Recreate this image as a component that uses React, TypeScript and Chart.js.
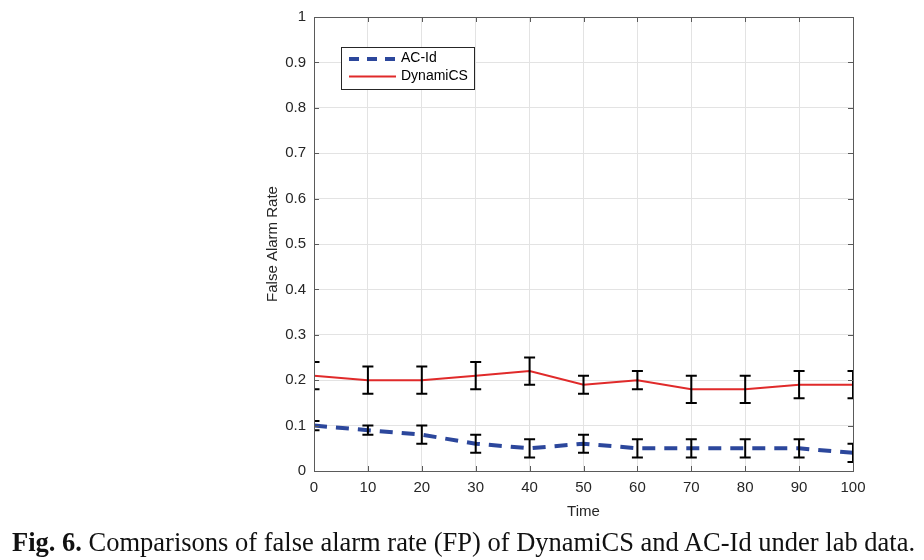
import React, { useEffect, useRef } from "react";
import { Chart, registerables } from "chart.js";

Chart.register(...registerables);

const times = [0, 10, 20, 30, 40, 50, 60, 70, 80, 90, 100];
const dynamicsMean = [0.21, 0.2, 0.2, 0.21, 0.22, 0.19, 0.2, 0.18, 0.18, 0.19, 0.19];
const dynamicsErr = [0.03, 0.03, 0.03, 0.03, 0.03, 0.02, 0.02, 0.03, 0.03, 0.03, 0.03];
const acidMean = [0.1, 0.09, 0.08, 0.06, 0.05, 0.06, 0.05, 0.05, 0.05, 0.05, 0.04];
const acidErr = [0.01, 0.01, 0.02, 0.02, 0.02, 0.02, 0.02, 0.02, 0.02, 0.02, 0.02];
const seriesNames = ["AC-Id", "DynamiCS"];
const xTitle = "Time";
const yTitle = "False Alarm Rate";
const caption = "Comparisons of false alarm rate (FP) of DynamiCS and AC-Id under lab data.";
const captionLabel = "Fig. 6.";

const BLUE = "#2c479c";
const RED = "#e02a2a";
const FONT = "'Liberation Sans', Arial, sans-serif";

const errorBarPlugin = {
  id: "errorBars",
  afterDatasetsDraw(chart: any) {
    const { ctx, chartArea, scales } = chart;
    const xs = scales.x;
    const ys = scales.y;
    ctx.save();
    ctx.beginPath();
    ctx.rect(chartArea.left, chartArea.top - 1, chartArea.right - chartArea.left, chartArea.bottom - chartArea.top + 2);
    ctx.clip();
    ctx.strokeStyle = "#000";
    ctx.lineWidth = 2;
    const draw = (means: number[], errs: number[]) => {
      times.forEach((t, i) => {
        const px = xs.getPixelForValue(t);
        const top = ys.getPixelForValue(means[i] + errs[i]);
        const bot = ys.getPixelForValue(means[i] - errs[i]);
        ctx.beginPath();
        ctx.moveTo(px, top);
        ctx.lineTo(px, bot);
        ctx.moveTo(px - 5.5, top);
        ctx.lineTo(px + 5.5, top);
        ctx.moveTo(px - 5.5, bot);
        ctx.lineTo(px + 5.5, bot);
        ctx.stroke();
      });
    };
    draw(dynamicsMean, dynamicsErr);
    draw(acidMean, acidErr);
    ctx.restore();

    // axes box and inward ticks
    ctx.save();
    ctx.strokeStyle = "#5a5a5a";
    ctx.lineWidth = 1;
    const { left, right, top, bottom } = chartArea;
    ctx.strokeRect(Math.round(left) + 0.5, Math.round(top) + 0.5, Math.round(right - left), Math.round(bottom - top));
    ctx.beginPath();
    xs.ticks.forEach((tk: any) => {
      const px = Math.round(xs.getPixelForValue(tk.value)) + 0.5;
      ctx.moveTo(px, bottom);
      ctx.lineTo(px, bottom - 5);
      ctx.moveTo(px, top);
      ctx.lineTo(px, top + 5);
    });
    ys.ticks.forEach((tk: any) => {
      const py = Math.round(ys.getPixelForValue(tk.value)) + 0.5;
      ctx.moveTo(left, py);
      ctx.lineTo(left + 5, py);
      ctx.moveTo(right, py);
      ctx.lineTo(right - 5, py);
    });
    ctx.stroke();
    ctx.restore();

    // legend
    ctx.save();
    const lx = 341, ly = 47, lw = 133, lh = 42;
    ctx.fillStyle = "#fff";
    ctx.fillRect(lx, ly, lw, lh);
    ctx.strokeStyle = "#262626";
    ctx.lineWidth = 1;
    ctx.strokeRect(lx + 0.5, ly + 0.5, lw, lh);
    ctx.lineWidth = 4;
    ctx.strokeStyle = BLUE;
    ctx.setLineDash([10, 8]);
    ctx.beginPath();
    ctx.moveTo(349, 59);
    ctx.lineTo(396, 59);
    ctx.stroke();
    ctx.setLineDash([]);
    ctx.lineWidth = 2;
    ctx.strokeStyle = RED;
    ctx.beginPath();
    ctx.moveTo(349, 76.5);
    ctx.lineTo(396, 76.5);
    ctx.stroke();
    ctx.fillStyle = "#000";
    ctx.font = `14px ${FONT}`;
    ctx.textBaseline = "middle";
    ctx.fillText(seriesNames[0], 401, 58.5);
    ctx.fillText(seriesNames[1], 401, 76.5);
    ctx.restore();
  },
};

export default function App() {
  const ref = useRef<HTMLCanvasElement>(null);
  useEffect(() => {
    if (!ref.current) return;
    const chart = new Chart(ref.current, {
      type: "line",
      data: {
        datasets: [
          {
            label: seriesNames[0],
            data: times.map((t, i) => ({ x: t, y: acidMean[i] })),
            borderColor: BLUE,
            borderWidth: 4,
            borderDash: [13, 9],
            pointRadius: 0,
            tension: 0,
          },
          {
            label: seriesNames[1],
            data: times.map((t, i) => ({ x: t, y: dynamicsMean[i] })),
            borderColor: RED,
            borderWidth: 2,
            pointRadius: 0,
            tension: 0,
          },
        ],
      },
      options: {
        animation: false,
        responsive: false,
        maintainAspectRatio: false,
        layout: { padding: { left: 264, right: 71, top: 16, bottom: 39 } },
        plugins: { legend: { display: false }, tooltip: { enabled: false } },
        scales: {
          x: {
            type: "linear",
            min: 0,
            max: 100,
            border: { display: false },
            grid: { color: "#e3e3e3", drawTicks: false },
            ticks: {
              stepSize: 10,
              padding: 8,
              color: "#262626",
              font: { family: FONT, size: 15 },
              maxRotation: 0,
            },
            title: {
              display: true,
              text: xTitle,
              color: "#262626",
              font: { family: FONT, size: 15 },
              padding: { top: 3, bottom: 0 },
            },
            afterFit: (s: any) => {
              s.height = 50;
            },
          },
          y: {
            min: 0,
            max: 1,
            border: { display: false },
            grid: { color: "#e3e3e3", drawTicks: false },
            ticks: {
              stepSize: 0.1,
              padding: 8,
              color: "#262626",
              font: { family: FONT, size: 15 },
              callback: (v: any) => String(Math.round(Number(v) * 10) / 10),
            },
            title: {
              display: true,
              text: yTitle,
              color: "#262626",
              font: { family: FONT, size: 15 },
              padding: { top: 0, bottom: 0 },
            },
            afterFit: (s: any) => {
              s.width = 50;
            },
          },
        },
      },
      plugins: [errorBarPlugin],
    });
    return () => chart.destroy();
  }, []);
  return (
    <div style={{ position: "fixed", left: 0, top: 0, width: 924, height: 560, background: "#fff" }}>
      <canvas ref={ref} width={924} height={560} style={{ position: "absolute", left: 0, top: 0 }} />
      <div
        style={{
          position: "absolute",
          left: 12,
          top: 528,
          fontFamily: "'Liberation Serif', 'Times New Roman', serif",
          fontSize: 26.5,
          lineHeight: "28px",
          color: "#111",
          whiteSpace: "nowrap",
        }}
      >
        <b>{captionLabel}</b> {caption}
      </div>
    </div>
  );
}
